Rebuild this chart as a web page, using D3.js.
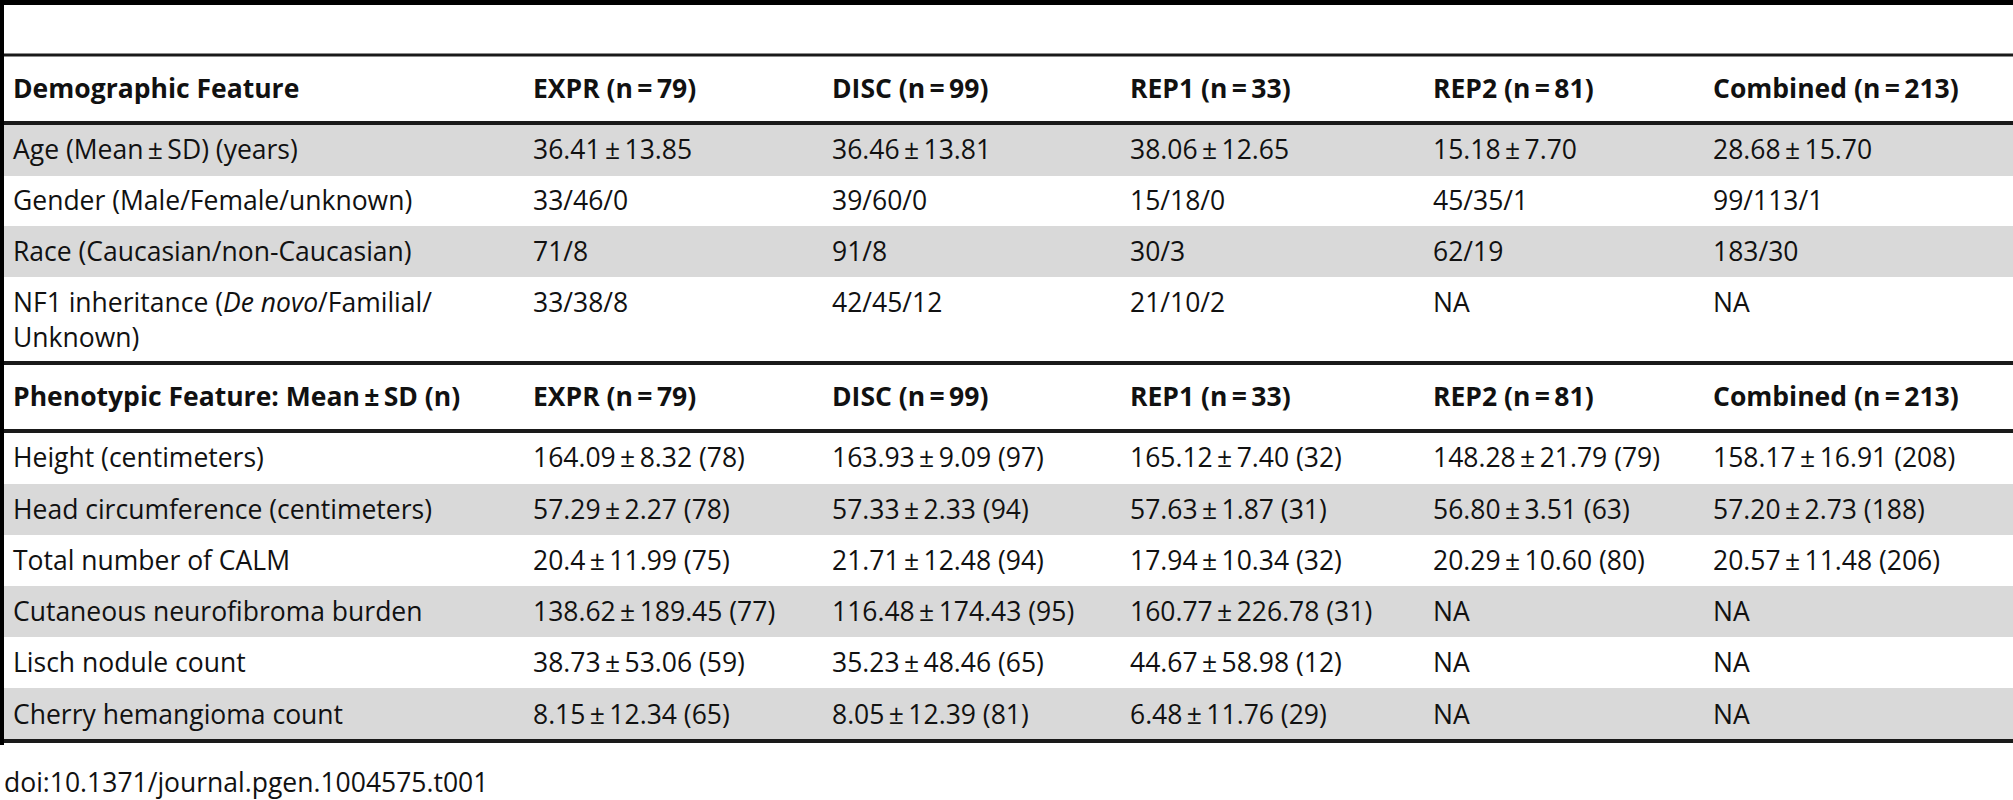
<!DOCTYPE html><html><head><meta charset="utf-8"><script src="https://cdn.jsdelivr.net/npm/d3@7"></script>
<style>body{margin:0;background:#fff}</style></head><body><svg id="c" width="2013" height="800"></svg>
<script>
const columns1 = ["Demographic Feature","EXPR (n\u2009=\u200979)","DISC (n\u2009=\u200999)","REP1 (n\u2009=\u200933)","REP2 (n\u2009=\u200981)","Combined (n\u2009=\u2009213)"];
const columns2 = ["Phenotypic Feature: Mean\u00b1SD (n)","EXPR (n\u2009=\u200979)","DISC (n\u2009=\u200999)","REP1 (n\u2009=\u200933)","REP2 (n\u2009=\u200981)","Combined (n\u2009=\u2009213)"];
const demoRows = [
 ["Age (Mean\u00b1SD) (years)","36.41\u00b113.85","36.46\u00b113.81","38.06\u00b112.65","15.18\u00b17.70","28.68\u00b115.70"],
 ["Gender (Male/Female/unknown)","33/46/0","39/60/0","15/18/0","45/35/1","99/113/1"],
 ["Race (Caucasian/non-Caucasian)","71/8","91/8","30/3","62/19","183/30"],
 ["NF1 inheritance (<i>De novo</i>/Familial/|Unknown)","33/38/8","42/45/12","21/10/2","NA","NA"]
];
const phenoRows = [
 ["Height (centimeters)","164.09\u00b18.32 (78)","163.93\u00b19.09 (97)","165.12\u00b17.40 (32)","148.28\u00b121.79 (79)","158.17\u00b116.91 (208)"],
 ["Head circumference (centimeters)","57.29\u00b12.27 (78)","57.33\u00b12.33 (94)","57.63\u00b11.87 (31)","56.80\u00b13.51 (63)","57.20\u00b12.73 (188)"],
 ["Total number of CALM","20.4\u00b111.99 (75)","21.71\u00b112.48 (94)","17.94\u00b110.34 (32)","20.29\u00b110.60 (80)","20.57\u00b111.48 (206)"],
 ["Cutaneous neurofibroma burden","138.62\u00b1189.45 (77)","116.48\u00b1174.43 (95)","160.77\u00b1226.78 (31)","NA","NA"],
 ["Lisch nodule count","38.73\u00b153.06 (59)","35.23\u00b148.46 (65)","44.67\u00b158.98 (12)","NA","NA"],
 ["Cherry hemangioma count","8.15\u00b112.34 (65)","8.05\u00b112.39 (81)","6.48\u00b111.76 (29)","NA","NA"]
];
const footer = "doi:10.1371/journal.pgen.1004575.t001";

const svg = d3.select("#c"), W = 2013, FS = 26.5;
const colX = d3.scaleOrdinal().domain(d3.range(6)).range([13,533,832,1130,1433,1713]);
const font = "'Open Sans', 'DejaVu Sans', sans-serif";
const layout = [];
layout.push({h:true,d:columns1,t:55,b:123});
const demoB=[[123,176,1],[176,226,0],[226,277,1],[277,363,0]];
demoRows.forEach((r,i)=>layout.push({d:r,t:demoB[i][0],b:demoB[i][1],g:demoB[i][2]}));
layout.push({h:true,d:columns2,t:363,b:431});
const phT=[431,484,535,586,637,688,741];
phenoRows.forEach((r,i)=>layout.push({d:r,t:phT[i],b:phT[i+1],g:i%2}));

layout.forEach(L=>{
  if(L.g) svg.append("rect").attr("x",4).attr("y",L.t).attr("width",W).attr("height",L.b-L.t).attr("fill","#d9d9d9");
  const multi = L.d.some(s=>s.includes("|"));
  L.d.forEach((txt,j)=>{
    const lines = txt.split("|");
    lines.forEach((ln,k)=>{
      const y = !multi ? (L.t+L.b)/2 : L.t+26+k*35;
      const el = svg.append("text").attr("x",colX(j)).attr("y",y).attr("dy","0.35em")
        .attr("font-family",font).attr("font-size",FS).attr("fill","#111")
        .attr("font-weight",L.h?"bold":"normal");
      const parts = ln.replace(/\u00b1/g,"\u2009\u00b1\u2009").split(/(<i>.*?<\/i>)/);
      parts.forEach(p=>{ if(!p) return;
        const it = p.startsWith("<i>");
        el.append("tspan").attr("font-style",it?"italic":"normal").text(it?p.slice(3,-4):p);
      });
    });
  });
});
svg.append("rect").attr("x",0).attr("y",0).attr("width",W).attr("height",5).attr("fill","#000");
svg.append("rect").attr("x",0).attr("y",0).attr("width",4).attr("height",745).attr("fill","#000");
[[55,3],[123,4],[363,4],[431,4],[741,4]].forEach(([y,h])=>
  svg.append("rect").attr("x",4).attr("y",y-h/2).attr("width",W).attr("height",h).attr("fill","#1a1a1a"));
svg.append("text").attr("x",4).attr("y",783).attr("dy","0.35em").attr("font-family",font)
  .attr("font-size",FS).attr("fill","#111").text(footer);
</script></body></html>
